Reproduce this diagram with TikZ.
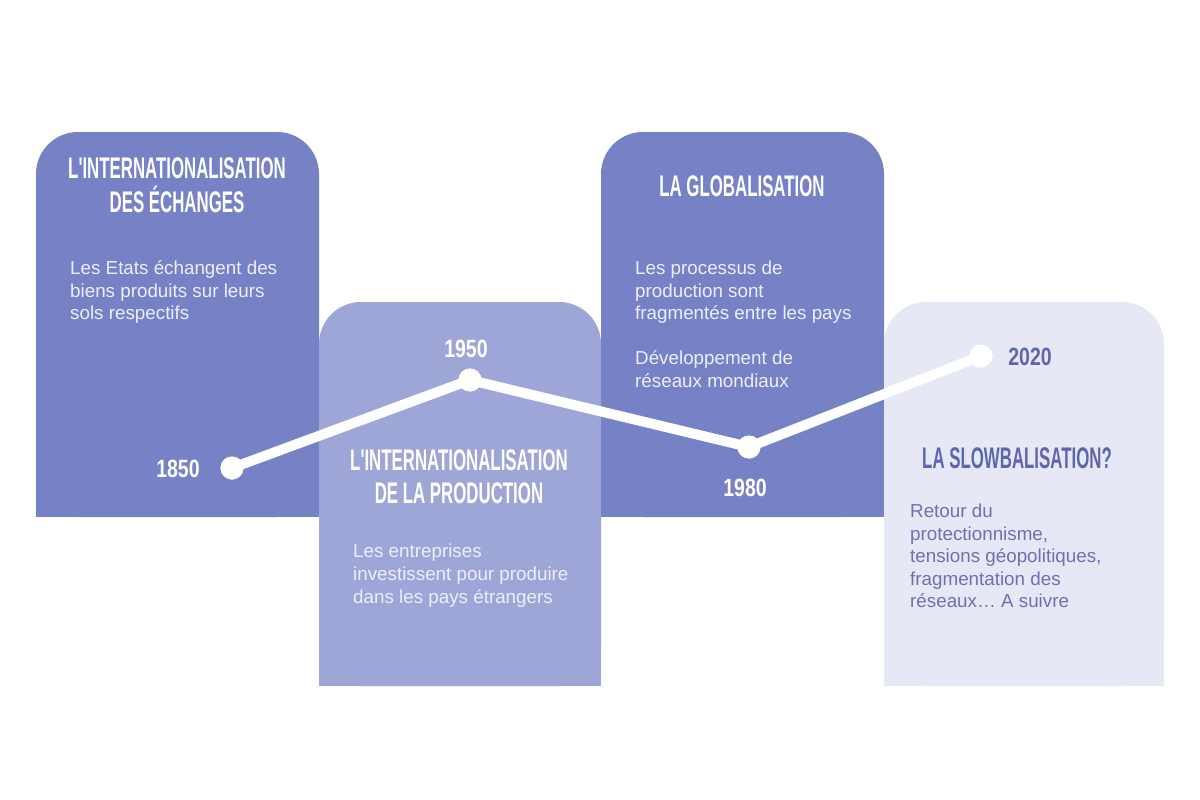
\documentclass[tikz,border=0pt]{standalone}
\usepackage{fontspec}
\setmainfont{Liberation Sans}
\newfontfamily\titlefont[FakeStretch=0.565]{Liberation Sans}
\newfontfamily\yearfont[FakeStretch=0.78]{Liberation Sans}
\definecolor{darkp}{HTML}{7781C6}
\definecolor{midp}{HTML}{9EA6D8}
\definecolor{lightp}{HTML}{E6E8F5}
\definecolor{bodyw}{HTML}{EDEEF8}
\definecolor{deepp}{HTML}{5E66AF}
\definecolor{grayp}{HTML}{6C72B0}
\tikzset{
  ttl/.style={font=\titlefont\bfseries\fontsize{29.8}{34}\selectfont, inner sep=0pt, anchor=base},
  yr/.style={font=\yearfont\bfseries\fontsize{25}{30}\selectfont, inner sep=0pt, anchor=base},
  bodytxt/.style={font=\fontsize{18.8}{22.7}\selectfont, inner sep=0pt, anchor=base west},
  dot/.style={circle, fill=white, minimum size=23pt, inner sep=0pt},
  tline/.style={white, line width=10pt}
}
\begin{document}
\begin{tikzpicture}[x=1pt,y=-1pt]
\useasboundingbox (0,0) rectangle (1200,800);
\fill[white] (0,0) rectangle (1200,800);
% panels
\fill[darkp, rounded corners=42pt] (36,132) rectangle (319,517);
\fill[darkp] (36,300) rectangle (319,517);
\fill[midp, rounded corners=42pt] (319,302) rectangle (601,686);
\fill[midp] (319,450) rectangle (601,686);
\fill[darkp, rounded corners=42pt] (601,132) rectangle (884,517);
\fill[darkp] (601,300) rectangle (884,517);
\fill[lightp, rounded corners=42pt] (884,302) rectangle (1164,686);
\fill[lightp] (884,450) rectangle (1164,686);
% titles
\node[ttl, white] (t1a) at (177,178) {L'INTERNATIONALISATION};
\node[ttl, white] (t1b) at (177,212) {DES ÉCHANGES};
\node[ttl, white] (t2a) at (459,470) {L'INTERNATIONALISATION};
\node[ttl, white] (t2b) at (459,503) {DE LA PRODUCTION};
\node[ttl, white] (t3) at (742,196) {LA GLOBALISATION};
\node[ttl, deepp] (t4) at (1017,468) {LA SLOWBALISATION?};
% body texts
\node[bodytxt, bodyw] (b1a) at (70,274) {Les Etats échangent des};
\node[bodytxt, bodyw] (b1b) at (70,297) {biens produits sur leurs};
\node[bodytxt, bodyw] (b1c) at (70,319) {sols respectifs};
\node[bodytxt, bodyw] (b2a) at (353,557) {Les entreprises};
\node[bodytxt, bodyw] (b2b) at (353,580) {investissent pour produire};
\node[bodytxt, bodyw] (b2c) at (353,603) {dans les pays étrangers};
\node[bodytxt, bodyw] (b3a) at (635,274) {Les processus de};
\node[bodytxt, bodyw] (b3b) at (635,297) {production sont};
\node[bodytxt, bodyw] (b3c) at (635,319) {fragmentés entre les pays};
\node[bodytxt, bodyw] (b3d) at (635,364) {Développement de};
\node[bodytxt, bodyw] (b3e) at (635,387) {réseaux mondiaux};
\node[bodytxt, grayp] (b4a) at (910,517) {Retour du};
\node[bodytxt, grayp] (b4b) at (910,540) {protectionnisme,};
\node[bodytxt, grayp] (b4c) at (910,562) {tensions géopolitiques,};
\node[bodytxt, grayp] (b4d) at (910,585) {fragmentation des};
\node[bodytxt, grayp] (b4e) at (910,607) {réseaux… A suivre};
% timeline
\node[dot] (d1) at (232,468) {};
\node[dot] (d2) at (470,380) {};
\node[dot] (d3) at (749,447) {};
\node[dot] (d4) at (981,356) {};
\draw[tline] (d1.center) -- (d2.center) -- (d3.center) -- (d4.center);
\node[dot] at (d1) {};
\node[dot] at (d2) {};
\node[dot] at (d3) {};
\node[dot] at (d4) {};
% years
\node[yr, white] (y1) at (178,477) {1850};
\node[yr, white] (y2) at (466,357) {1950};
\node[yr, white] (y3) at (745,496) {1980};
\node[yr, deepp] (y4) at (1030,365) {2020};
\end{tikzpicture}
\end{document}
